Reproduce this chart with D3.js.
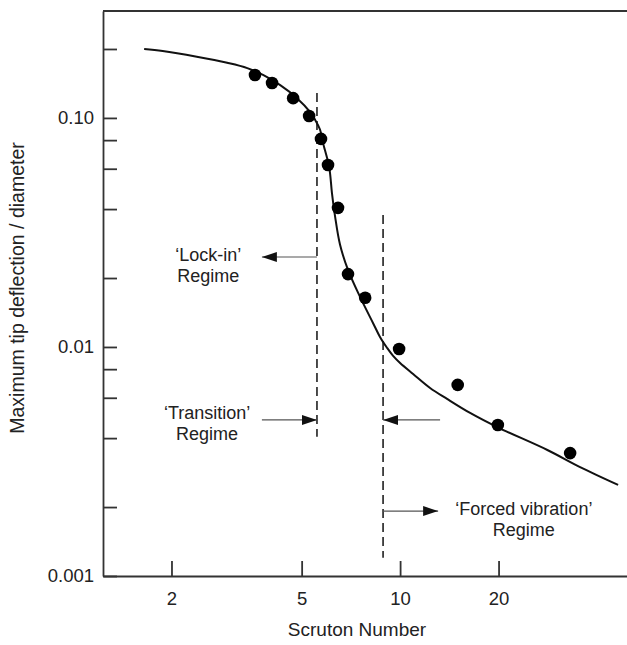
<!DOCTYPE html>
<html>
<head>
<meta charset="utf-8">
<script src="https://cdn.jsdelivr.net/npm/d3@7"></script>
<style>
  html, body { margin: 0; padding: 0; background: #fff; }
  svg { display: block; }
  text { font-family: Arial, "Liberation Sans", sans-serif; fill: #222; }
</style>
</head>
<body>
<div id="chart"></div>
<script>
// fitted curve (Scruton number, tip deflection / diameter)
var curveSc = [1.65, 1.88, 2.39, 2.96, 3.41, 3.81, 4.30, 4.84, 5.31, 5.50, 5.69, 5.81,
  6.07, 6.19, 6.33, 6.55, 6.93, 7.55, 8.27, 8.68, 9.13, 9.52, 10.0, 10.96, 12.35, 13.92,
  16.37, 19.8, 28.2, 35.5, 46.4];
var curveDef = [0.200, 0.196, 0.185, 0.174, 0.165, 0.154, 0.139, 0.122, 0.106, 0.098, 0.089, 0.078,
  0.061, 0.047, 0.037, 0.028, 0.0217, 0.0165, 0.0127, 0.01106, 0.0099, 0.00914, 0.00851, 0.00762,
  0.00662, 0.00593, 0.00515, 0.00447, 0.00355, 0.00299, 0.00250];

// measured points
var pointSc = [3.60, 4.06, 4.71, 5.27, 5.73, 6.02, 6.46, 6.93, 7.82, 9.93, 15.0, 19.9, 33.1];
var pointDef = [0.154, 0.142, 0.122, 0.102, 0.081, 0.0623, 0.0405, 0.0208, 0.0164, 0.0098,
  0.00683, 0.00456, 0.00344];

// regime boundaries (dashed lines): Scruton number and vertical extent
var boundarySc = [5.57, 8.87];
var boundaryTop = [0.1286, 0.0377];
var boundaryBottom = [0.00405, 0.0012];

var xTicks = [2, 5, 10, 20];
var xTickLabels = ["2", "5", "10", "20"];
var yTicks = [0.2, 0.1, 0.08, 0.06, 0.04, 0.02, 0.01, 0.008, 0.006, 0.004, 0.002, 0.001];
var yLabelTicks = [0.1, 0.01, 0.001];
var yTickLabels = ["0.10", "0.01", "0.001"];

var width = 627, height = 645;
var margin = {top: 11, right: 0, bottom: 69, left: 103};

var svg = d3.select("#chart").append("svg")
  .attr("width", width)
  .attr("height", height);

var x = d3.scaleLog()
  .domain([1.235, 49.4])
  .range([margin.left, width - margin.right]);

var y = d3.scaleLog()
  .domain([0.001, 0.293])
  .range([height - margin.bottom, margin.top]);

var axisColor = "#333";

svg.append("defs").append("marker")
  .attr("id", "head")
  .attr("viewBox", "0 -6 16 12")
  .attr("markerUnits", "userSpaceOnUse")
  .attr("markerWidth", 16)
  .attr("markerHeight", 12)
  .attr("refX", 15)
  .attr("refY", 0)
  .attr("orient", "auto")
  .append("path")
  .attr("d", "M0,-5L15,0L0,5Z")
  .attr("fill", "#111");

// axes, ticks pointing inwards
var xAxis = svg.append("g")
  .attr("transform", "translate(0," + (height - margin.bottom) + ")")
  .call(d3.axisBottom(x)
    .tickValues(xTicks)
    .tickSize(-15)
    .tickSizeOuter(0)
    .tickPadding(16)
    .tickFormat(function (d) { return xTickLabels[xTicks.indexOf(d)]; }));

var yAxis = svg.append("g")
  .attr("transform", "translate(" + margin.left + ",0)")
  .call(d3.axisLeft(y)
    .tickValues(yTicks)
    .tickSize(-14)
    .tickSizeOuter(0)
    .tickPadding(9)
    .tickFormat(function (d) {
      var i = yLabelTicks.indexOf(d);
      return i < 0 ? "" : yTickLabels[i];
    }));

[xAxis, yAxis].forEach(function (g) {
  g.selectAll("path, line").attr("stroke", axisColor).attr("stroke-width", 1.8);
  g.selectAll("text").style("font-size", "18.5px").attr("fill", "#222");
});

// top frame line
svg.append("line")
  .attr("x1", margin.left).attr("x2", width)
  .attr("y1", margin.top).attr("y2", margin.top)
  .attr("stroke", axisColor)
  .attr("stroke-width", 1.8);

// axis titles
svg.append("text")
  .attr("x", 357)
  .attr("y", 636)
  .attr("text-anchor", "middle")
  .style("font-size", "19px")
  .text("Scruton Number");

svg.append("text")
  .attr("transform", "translate(24,288) rotate(-90)")
  .attr("text-anchor", "middle")
  .style("font-size", "19.5px")
  .text("Maximum tip deflection / diameter");

// dashed regime boundaries
svg.selectAll(".boundary")
  .data(boundarySc)
  .enter().append("line")
  .attr("class", "boundary")
  .attr("x1", function (d) { return x(d); })
  .attr("x2", function (d) { return x(d); })
  .attr("y1", function (d, i) { return y(boundaryTop[i]); })
  .attr("y2", function (d, i) { return y(boundaryBottom[i]); })
  .attr("stroke", "#111")
  .attr("stroke-width", 1.5)
  .attr("stroke-dasharray", "9,5");

// fitted curve
var line = d3.line()
  .x(function (d) { return x(d[0]); })
  .y(function (d) { return y(d[1]); })
  .curve(d3.curveCatmullRom.alpha(0.5));

svg.append("path")
  .datum(d3.zip(curveSc, curveDef))
  .attr("d", line)
  .attr("fill", "none")
  .attr("stroke", "#111")
  .attr("stroke-width", 2);

// measured points
svg.selectAll(".pt")
  .data(d3.zip(pointSc, pointDef))
  .enter().append("circle")
  .attr("class", "pt")
  .attr("cx", function (d) { return x(d[0]); })
  .attr("cy", function (d) { return y(d[1]); })
  .attr("r", 6.3)
  .attr("fill", "#000");

// regime arrows (data coords: from, to, level)
var arrows = [
  {x1: boundarySc[0], x2: 3.78, y: 0.0247},
  {x1: 3.78, x2: boundarySc[0], y: 0.0048},
  {x1: 13.25, x2: boundarySc[1], y: 0.0048},
  {x1: boundarySc[1], x2: 13.07, y: 0.00192}
];

svg.selectAll(".arrow")
  .data(arrows)
  .enter().append("line")
  .attr("class", "arrow")
  .attr("x1", function (d) { return x(d.x1); })
  .attr("x2", function (d) { return x(d.x2); })
  .attr("y1", function (d) { return y(d.y); })
  .attr("y2", function (d) { return y(d.y); })
  .attr("stroke", "#555")
  .attr("stroke-width", 1.2)
  .attr("marker-end", "url(#head)");

var labels = [
  {x: 2.59, y: 0.0252, lines: ["\u2018Lock-in\u2019", "Regime"]},
  {x: 2.57, y: 0.00515, lines: ["\u2018Transition\u2019", "Regime"]},
  {x: 23.9, y: 0.00196, lines: ["\u2018Forced vibration\u2019", "Regime"]}
];

labels.forEach(function (l) {
  var t = svg.append("text")
    .attr("x", x(l.x))
    .attr("y", y(l.y))
    .attr("text-anchor", "middle")
    .style("font-size", "18px");
  l.lines.forEach(function (s, i) {
    t.append("tspan")
      .attr("x", x(l.x))
      .attr("dy", i === 0 ? "0.35em" : "1.15em")
      .text(s);
  });
});
</script>
</body>
</html>
